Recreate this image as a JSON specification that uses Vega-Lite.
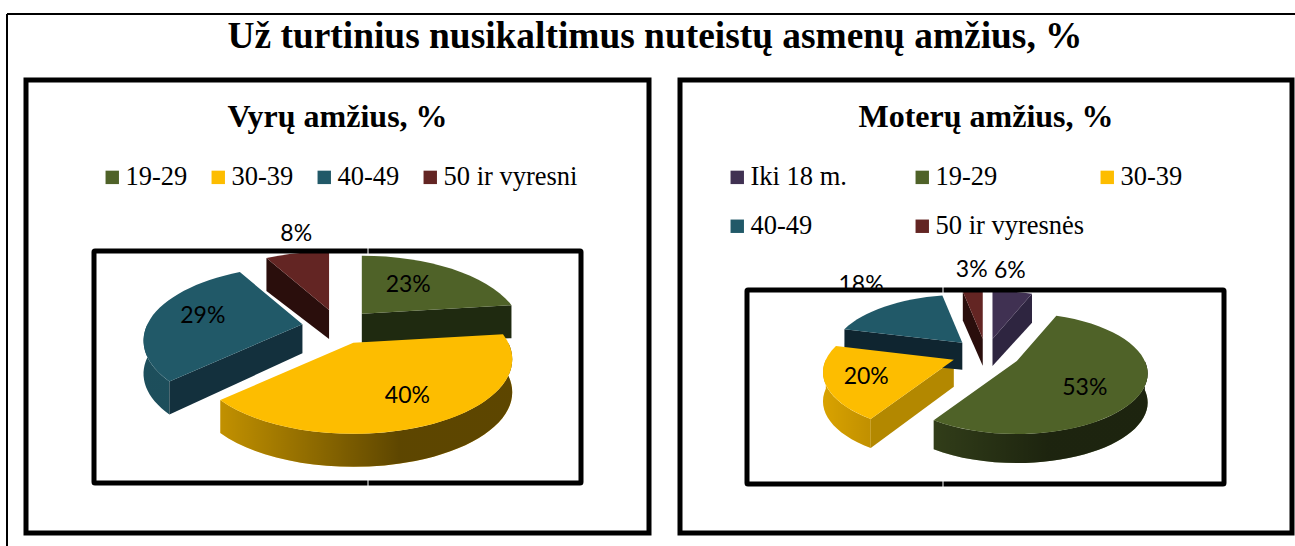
{
"$schema":"https://vega.github.io/schema/vega-lite/v6.json",
"background":"white",
"padding":{"left":3,"top":10,"right":0,"bottom":0},
"title":{"text":"Už turtinius nusikaltimus nuteistų asmenų amžius, %","font":"Liberation Serif","fontSize":37.4,"fontWeight":"bold","color":"black","anchor":"middle","dx":4,"offset":-45},
"bounds":"flush",
"spacing":31,
"config":{"axis":{"disable":true},"view":{"stroke":"black","strokeWidth":5}},
"hconcat":[
{"width":623,"height":453,
 "title":{"text":"Vyrų amžius, %","font":"Liberation Serif","fontSize":32,"fontWeight":"bold","color":"black","anchor":"middle","offset":-121},
 "data":{"values":[{"i":1,"age":"19-29","pct":23},{"i":2,"age":"30-39","pct":40},{"i":3,"age":"40-49","pct":29},{"i":4,"age":"50 ir vyresni","pct":8}]},
 "transform":[
  {"stack":"pct","sort":[{"field":"i"}],"as":["p0","p1"]},
  {"calculate":"{'R':155,'B':71,'k':0.22,'ex':36,'ey':17.5,'d0':29,'d1':33}","as":"g"},
  {"calculate":"datum.p0/100*2*PI","as":"a0"},
  {"calculate":"datum.p1/100*2*PI","as":"a1"},
  {"calculate":"(datum.a0+datum.a1)/2","as":"am"},
  {"calculate":"1+datum.g.k*cos(datum.a0)","as":"w0"},
  {"calculate":"1+datum.g.k*cos(datum.a1)","as":"w1"},
  {"calculate":"datum.g.R*sin(datum.a0)/datum.w0","as":"x0"},
  {"calculate":"-datum.g.B*cos(datum.a0)/datum.w0","as":"y0"},
  {"calculate":"datum.g.R*sin(datum.a1)/datum.w1","as":"x1"},
  {"calculate":"-datum.g.B*cos(datum.a1)/datum.w1","as":"y1"},
  {"calculate":"datum.g.ex*sin(datum.am)","as":"ox"},
  {"calculate":"-datum.g.ey*cos(datum.am)","as":"oy"},
  {"calculate":"datum.g.B*datum.g.k/(1-datum.g.k*datum.g.k)","as":"cy"},
  {"calculate":"datum.g.B/(1-datum.g.k*datum.g.k)","as":"ry"},
  {"calculate":"datum.g.R/sqrt(1-datum.g.k*datum.g.k)","as":"rx"},
  {"calculate":"((datum.x1-datum.x0)*(datum.cy-datum.y0)+(datum.y1-datum.y0)*datum.x0)<0?1:0","as":"lg"},
  {"calculate":"round((datum.ox+datum.x0)*100)/100","as":"X0"},
  {"calculate":"round((datum.oy+datum.y0)*100)/100","as":"Y0"},
  {"calculate":"round((datum.ox+datum.x1)*100)/100","as":"X1"},
  {"calculate":"round((datum.oy+datum.y1)*100)/100","as":"Y1"},
  {"calculate":"round(datum.ox*100)/100","as":"OX"},
  {"calculate":"round(datum.oy*100)/100","as":"OY"},
  {"calculate":"'M'+datum.OX+','+datum.OY+'L'+datum.X0+','+datum.Y0+'A'+datum.rx+','+datum.ry+',0,'+datum.lg+',1,'+datum.X1+','+datum.Y1+'Z'","as":"topPath"},
  {"calculate":"max(datum.a0,PI/2)","as":"b0"},
  {"calculate":"min(datum.a1,3*PI/2)","as":"b1"},
  {"calculate":"datum.g.R*sin(datum.b0)/(1+datum.g.k*cos(datum.b0))","as":"bx0"},
  {"calculate":"-datum.g.B*cos(datum.b0)/(1+datum.g.k*cos(datum.b0))","as":"by0"},
  {"calculate":"datum.g.R*sin(datum.b1)/(1+datum.g.k*cos(datum.b1))","as":"bx1"},
  {"calculate":"-datum.g.B*cos(datum.b1)/(1+datum.g.k*cos(datum.b1))","as":"by1"},
  {"calculate":"((datum.bx1-datum.bx0)*(datum.cy-datum.by0)+(datum.by1-datum.by0)*datum.bx0)<0?1:0","as":"blg"},
  {"calculate":"round((datum.ox+datum.bx0)*100)/100","as":"BX0"},
  {"calculate":"round((datum.oy+datum.by0)*100)/100","as":"BY0"},
  {"calculate":"round((datum.ox+datum.bx1)*100)/100","as":"BX1"},
  {"calculate":"round((datum.oy+datum.by1)*100)/100","as":"BY1"},
  {"calculate":"datum.b1<=datum.b0?'M0,0Z':'M'+datum.BX0+','+datum.BY0+'A'+datum.rx+','+datum.ry+',0,'+datum.blg+',1,'+datum.BX1+','+datum.BY1+'L'+datum.BX1+','+(datum.BY1+datum.g.d1)+'A'+datum.rx+','+datum.ry+',0,'+datum.blg+',0,'+datum.BX0+','+(datum.BY0+datum.g.d1)+'Z'","as":"bandPath"},
  {"calculate":"datum.p0<=50?'M0,0Z':'M'+datum.OX+','+datum.OY+'L'+datum.X0+','+datum.Y0+'L'+datum.X0+','+(datum.Y0+datum.g.d1)+'L'+datum.OX+','+(datum.OY+datum.g.d0)+'Z'","as":"face0"},
  {"calculate":"datum.p1>=50?'M0,0Z':'M'+datum.OX+','+datum.OY+'L'+datum.X1+','+datum.Y1+'L'+datum.X1+','+(datum.Y1+datum.g.d1)+'L'+datum.OX+','+(datum.OY+datum.g.d0)+'Z'","as":"face1"},
  {"calculate":"{'19-29':'#1f2a10','30-39':'#b38800','40-49':'#13303d','50 ir vyresni':'#2a0e0c'}[datum.age]","as":"faceColor"},
  {"calculate":"min(datum.BX0,datum.BX1)","as":"minX"},
  {"calculate":"max(datum.BX0,datum.BX1)","as":"maxX"},
  {"calculate":"clamp(0.12+0.5*(datum.minX+170)/230,0.12,0.63)","as":"sh0"},
  {"calculate":"clamp(0.12+0.5*(datum.maxX+170)/230,0.12,0.63)","as":"sh1"},
  {"calculate":"{'gradient':'linear','x1':0,'y1':0,'x2':1,'y2':0,'stops':[{'offset':0,'color':'rgba(0,0,0,'+datum.sh0+')'},{'offset':(datum.maxX>60?(60-datum.minX)/(datum.maxX-datum.minX):1),'color':'rgba(0,0,0,'+datum.sh1+')'},{'offset':1,'color':'rgba(0,0,0,'+datum.sh1+')'}]}","as":"shade"},
  {"calculate":"datum.pct>=35?0.68:datum.pct>=25?0.66:datum.pct>=20?0.55:0.97","as":"fx"},
  {"calculate":"datum.pct>=35?0.66:datum.pct>=25?0.75:datum.pct>=20?0.63:1.35","as":"fy"},
  {"calculate":"-1.5+datum.ox+datum.fx*datum.g.R*sin(datum.am)/(1+datum.g.k*cos(datum.am))","as":"lx"},
  {"calculate":"20.5+datum.oy-datum.fy*datum.g.B*cos(datum.am)/(1+datum.g.k*cos(datum.am))","as":"ly"},
  {"calculate":"datum.pct+'%'","as":"label"}
 ],
 "layer":[
  {"mark":{"type":"point","filled":true,"opacity":1,"strokeWidth":0},
   "encoding":{"x":{"datum":0.5,"type":"quantitative","scale":{"domain":[-311.5,311.5],"nice":false,"zero":false}},"y":{"datum":20.5,"type":"quantitative","scale":{"domain":[-226.5,226.5],"reverse":true,"nice":false,"zero":false}},
    "shape":{"field":"bandPath","type":"nominal","scale":null,"legend":null},"size":{"value":4},
    "fill":{"field":"age","type":"nominal","scale":{"domain":["19-29","30-39","40-49","50 ir vyresni"],"range":["#4f6228","#fdbd00","#215968","#632523"]},
     "legend":{"title":null,"orient":"none","legendX":73,"legendY":84,"direction":"horizontal","columns":4,"columnPadding":17,"symbolType":"square","symbolSize":180,"symbolStrokeWidth":0,"labelFont":"Liberation Serif","labelFontSize":26.5,"labelColor":"black","labelOffset":0,"labelLimit":300}}}},
  {"mark":{"type":"point","filled":true,"opacity":1,"strokeWidth":0},
   "encoding":{"x":{"datum":0.5,"type":"quantitative"},"y":{"datum":20.5,"type":"quantitative"},"shape":{"field":"bandPath","type":"nominal","scale":null,"legend":null},"size":{"value":4},"fill":{"field":"shade","type":"nominal","scale":null,"legend":null}}},
  {"mark":{"type":"point","filled":true,"opacity":1,"strokeWidth":0},
   "encoding":{"x":{"datum":0.5,"type":"quantitative"},"y":{"datum":20.5,"type":"quantitative"},"shape":{"field":"face0","type":"nominal","scale":null,"legend":null},"size":{"value":4},"fill":{"field":"faceColor","type":"nominal","scale":null,"legend":null}}},
  {"mark":{"type":"point","filled":true,"opacity":1,"strokeWidth":0},
   "encoding":{"x":{"datum":0.5,"type":"quantitative"},"y":{"datum":20.5,"type":"quantitative"},"shape":{"field":"face1","type":"nominal","scale":null,"legend":null},"size":{"value":4},"fill":{"field":"faceColor","type":"nominal","scale":null,"legend":null}}},
  {"mark":{"type":"point","filled":true,"opacity":1,"strokeWidth":0},
   "encoding":{"x":{"datum":0.5,"type":"quantitative"},"y":{"datum":20.5,"type":"quantitative"},"shape":{"field":"topPath","type":"nominal","scale":null,"legend":null},"size":{"value":4},"fill":{"field":"age","type":"nominal","legend":null}}},
  {"mark":{"type":"text","font":"Lato","fontSize":23,"color":"black","align":"center","baseline":"middle"},
   "encoding":{"x":{"field":"lx","type":"quantitative"},"y":{"field":"ly","type":"quantitative"},"text":{"field":"label","type":"nominal"}}},
  {"data":{"values":[{}]},"mark":{"type":"rect","fill":null,"stroke":"black","strokeWidth":5,"cornerRadius":1},
   "encoding":{"x":{"datum":-243.5,"type":"quantitative"},"x2":{"datum":243.5},"y":{"datum":-55.5,"type":"quantitative"},"y2":{"datum":176.5}}},
  {"data":{"values":[{}]},"mark":{"type":"rule","color":"white","strokeWidth":1},
   "encoding":{"x":{"datum":30.5,"type":"quantitative"},"y":{"datum":-58.5,"type":"quantitative"},"y2":{"datum":-52.5}}},
  {"data":{"values":[{}]},"mark":{"type":"rule","color":"white","strokeWidth":1},
   "encoding":{"x":{"datum":30.5,"type":"quantitative"},"y":{"datum":173.5,"type":"quantitative"},"y2":{"datum":179.5}}},
  {"data":{"values":[{}]},"mark":{"type":"rule","color":"black","strokeWidth":2},
   "encoding":{"x":{"datum":-330.5,"type":"quantitative"},"x2":{"datum":957.5},"y":{"datum":-292.5,"type":"quantitative"}}},
  {"data":{"values":[{}]},"mark":{"type":"rule","color":"black","strokeWidth":2},
   "encoding":{"x":{"datum":-330.5,"type":"quantitative"},"y":{"datum":-292.5,"type":"quantitative"},"y2":{"datum":240.5}}}
 ]},
{"width":612,"height":453,
 "title":{"text":"Moterų amžius, %","font":"Liberation Serif","fontSize":32,"fontWeight":"bold","color":"black","anchor":"middle","offset":-54},
 "data":{"values":[{"i":1,"age":"Iki 18 m.","pct":6},{"i":2,"age":"19-29","pct":53},{"i":3,"age":"30-39","pct":20},{"i":4,"age":"40-49","pct":18},{"i":5,"age":"50 ir vyresnės","pct":3}]},
 "transform":[
  {"stack":"pct","sort":[{"field":"i"}],"as":["p0","p1"]},
  {"calculate":"{'R':128,'B':58,'k':0.207,'ex':34.6,'ey':15.3,'d0':27,'d1':29}","as":"g"},
  {"calculate":"datum.p0/100*2*PI","as":"a0"},
  {"calculate":"datum.p1/100*2*PI","as":"a1"},
  {"calculate":"(datum.a0+datum.a1)/2","as":"am"},
  {"calculate":"1+datum.g.k*cos(datum.a0)","as":"w0"},
  {"calculate":"1+datum.g.k*cos(datum.a1)","as":"w1"},
  {"calculate":"datum.g.R*sin(datum.a0)/datum.w0","as":"x0"},
  {"calculate":"-datum.g.B*cos(datum.a0)/datum.w0","as":"y0"},
  {"calculate":"datum.g.R*sin(datum.a1)/datum.w1","as":"x1"},
  {"calculate":"-datum.g.B*cos(datum.a1)/datum.w1","as":"y1"},
  {"calculate":"datum.g.ex*sin(datum.am)","as":"ox"},
  {"calculate":"-datum.g.ey*cos(datum.am)","as":"oy"},
  {"calculate":"datum.g.B*datum.g.k/(1-datum.g.k*datum.g.k)","as":"cy"},
  {"calculate":"datum.g.B/(1-datum.g.k*datum.g.k)","as":"ry"},
  {"calculate":"datum.g.R/sqrt(1-datum.g.k*datum.g.k)","as":"rx"},
  {"calculate":"((datum.x1-datum.x0)*(datum.cy-datum.y0)+(datum.y1-datum.y0)*datum.x0)<0?1:0","as":"lg"},
  {"calculate":"round((datum.ox+datum.x0)*100)/100","as":"X0"},
  {"calculate":"round((datum.oy+datum.y0)*100)/100","as":"Y0"},
  {"calculate":"round((datum.ox+datum.x1)*100)/100","as":"X1"},
  {"calculate":"round((datum.oy+datum.y1)*100)/100","as":"Y1"},
  {"calculate":"round(datum.ox*100)/100","as":"OX"},
  {"calculate":"round(datum.oy*100)/100","as":"OY"},
  {"calculate":"'M'+datum.OX+','+datum.OY+'L'+datum.X0+','+datum.Y0+'A'+datum.rx+','+datum.ry+',0,'+datum.lg+',1,'+datum.X1+','+datum.Y1+'Z'","as":"topPath"},
  {"calculate":"max(datum.a0,PI/2)","as":"b0"},
  {"calculate":"min(datum.a1,3*PI/2)","as":"b1"},
  {"calculate":"datum.g.R*sin(datum.b0)/(1+datum.g.k*cos(datum.b0))","as":"bx0"},
  {"calculate":"-datum.g.B*cos(datum.b0)/(1+datum.g.k*cos(datum.b0))","as":"by0"},
  {"calculate":"datum.g.R*sin(datum.b1)/(1+datum.g.k*cos(datum.b1))","as":"bx1"},
  {"calculate":"-datum.g.B*cos(datum.b1)/(1+datum.g.k*cos(datum.b1))","as":"by1"},
  {"calculate":"((datum.bx1-datum.bx0)*(datum.cy-datum.by0)+(datum.by1-datum.by0)*datum.bx0)<0?1:0","as":"blg"},
  {"calculate":"round((datum.ox+datum.bx0)*100)/100","as":"BX0"},
  {"calculate":"round((datum.oy+datum.by0)*100)/100","as":"BY0"},
  {"calculate":"round((datum.ox+datum.bx1)*100)/100","as":"BX1"},
  {"calculate":"round((datum.oy+datum.by1)*100)/100","as":"BY1"},
  {"calculate":"datum.b1<=datum.b0?'M0,0Z':'M'+datum.BX0+','+datum.BY0+'A'+datum.rx+','+datum.ry+',0,'+datum.blg+',1,'+datum.BX1+','+datum.BY1+'L'+datum.BX1+','+(datum.BY1+datum.g.d1)+'A'+datum.rx+','+datum.ry+',0,'+datum.blg+',0,'+datum.BX0+','+(datum.BY0+datum.g.d1)+'Z'","as":"bandPath"},
  {"calculate":"datum.p0<=50?'M0,0Z':'M'+datum.OX+','+datum.OY+'L'+datum.X0+','+datum.Y0+'L'+datum.X0+','+(datum.Y0+datum.g.d1)+'L'+datum.OX+','+(datum.OY+datum.g.d0)+'Z'","as":"face0"},
  {"calculate":"datum.p1>=50?'M0,0Z':'M'+datum.OX+','+datum.OY+'L'+datum.X1+','+datum.Y1+'L'+datum.X1+','+(datum.Y1+datum.g.d1)+'L'+datum.OX+','+(datum.OY+datum.g.d0)+'Z'","as":"face1"},
  {"calculate":"{'Iki 18 m.':'#2e2540','19-29':'#1f2a10','30-39':'#b38800','40-49':'#0f2530','50 ir vyresnės':'#2a0e0c'}[datum.age]","as":"faceColor"},
  {"calculate":"min(datum.BX0,datum.BX1)","as":"minX"},
  {"calculate":"max(datum.BX0,datum.BX1)","as":"maxX"},
  {"calculate":"clamp(0.12+0.5*(datum.minX+170)/230,0.12,0.63)","as":"sh0"},
  {"calculate":"clamp(0.12+0.5*(datum.maxX+170)/230,0.12,0.63)","as":"sh1"},
  {"calculate":"{'gradient':'linear','x1':0,'y1':0,'x2':1,'y2':0,'stops':[{'offset':0,'color':'rgba(0,0,0,'+datum.sh0+')'},{'offset':(datum.maxX>60?(60-datum.minX)/(datum.maxX-datum.minX):1),'color':'rgba(0,0,0,'+datum.sh1+')'},{'offset':1,'color':'rgba(0,0,0,'+datum.sh1+')'}]}","as":"shade"},
  {"calculate":"datum.pct>=50?0.54:datum.pct>=20?0.68:datum.pct>=10?1.33:datum.pct>=5?0.87:1.1","as":"fx"},
  {"calculate":"datum.pct>=50?0.93:datum.pct>=20?0.74:datum.pct>=10?1.57:1.43","as":"fy"},
  {"calculate":"datum.ox+datum.fx*datum.g.R*sin(datum.am)/(1+datum.g.k*cos(datum.am))","as":"lx"},
  {"calculate":"47.5+datum.oy-datum.fy*datum.g.B*cos(datum.am)/(1+datum.g.k*cos(datum.am))","as":"ly"},
  {"calculate":"datum.pct+'%'","as":"label"}
 ],
 "layer":[
  {"mark":{"type":"point","filled":true,"opacity":1,"strokeWidth":0},
   "encoding":{"x":{"datum":0,"type":"quantitative","scale":{"domain":[-306,306],"nice":false,"zero":false}},"y":{"datum":47.5,"type":"quantitative","scale":{"domain":[-226.5,226.5],"reverse":true,"nice":false,"zero":false}},
    "shape":{"field":"bandPath","type":"nominal","scale":null,"legend":null},"size":{"value":4},
    "color":{"field":"age","type":"nominal","scale":{"domain":["Iki 18 m.","19-29","30-39","40-49","50 ir vyresnės"],"range":["#403152","#4f6228","#fdbd00","#215968","#632523"]},
     "legend":{"title":null,"orient":"none","legendX":698,"legendY":84,"direction":"horizontal","columns":3,"gridAlign":"all","columnPadding":9,"rowPadding":22,"symbolType":"square","symbolSize":180,"symbolStrokeWidth":0,"labelFont":"Liberation Serif","labelFontSize":26.5,"labelColor":"black","labelOffset":0,"labelLimit":300}}}},
  {"mark":{"type":"point","filled":true,"opacity":1,"strokeWidth":0},
   "encoding":{"x":{"datum":0,"type":"quantitative"},"y":{"datum":47.5,"type":"quantitative"},"shape":{"field":"bandPath","type":"nominal","scale":null,"legend":null},"size":{"value":4},"color":{"field":"shade","type":"nominal","scale":null,"legend":null}}},
  {"mark":{"type":"point","filled":true,"opacity":1,"strokeWidth":0},
   "encoding":{"x":{"datum":0,"type":"quantitative"},"y":{"datum":47.5,"type":"quantitative"},"shape":{"field":"face0","type":"nominal","scale":null,"legend":null},"size":{"value":4},"color":{"field":"faceColor","type":"nominal","scale":null,"legend":null}}},
  {"mark":{"type":"point","filled":true,"opacity":1,"strokeWidth":0},
   "encoding":{"x":{"datum":0,"type":"quantitative"},"y":{"datum":47.5,"type":"quantitative"},"shape":{"field":"face1","type":"nominal","scale":null,"legend":null},"size":{"value":4},"color":{"field":"faceColor","type":"nominal","scale":null,"legend":null}}},
  {"mark":{"type":"point","filled":true,"opacity":1,"strokeWidth":0},
   "encoding":{"x":{"datum":0,"type":"quantitative"},"y":{"datum":47.5,"type":"quantitative"},"shape":{"field":"topPath","type":"nominal","scale":null,"legend":null},"size":{"value":4},"color":{"field":"age","type":"nominal","legend":null}}},
  {"mark":{"type":"text","font":"Lato","fontSize":23,"color":"black","align":"center","baseline":"middle"},
   "encoding":{"x":{"field":"lx","type":"quantitative"},"y":{"field":"ly","type":"quantitative"},"text":{"field":"label","type":"nominal"}}},
  {"data":{"values":[{}]},"mark":{"type":"rect","fill":null,"stroke":"black","strokeWidth":5,"cornerRadius":1},
   "encoding":{"x":{"datum":-239,"type":"quantitative"},"x2":{"datum":238},"y":{"datum":-16.5,"type":"quantitative"},"y2":{"datum":177.5}}},
  {"data":{"values":[{}]},"mark":{"type":"rule","color":"white","strokeWidth":1},
   "encoding":{"x":{"datum":-43,"type":"quantitative"},"y":{"datum":-19.5,"type":"quantitative"},"y2":{"datum":-13.5}}},
  {"data":{"values":[{}]},"mark":{"type":"rule","color":"white","strokeWidth":1},
   "encoding":{"x":{"datum":-43,"type":"quantitative"},"y":{"datum":174.5,"type":"quantitative"},"y2":{"datum":180.5}}}
 ]}
]}
